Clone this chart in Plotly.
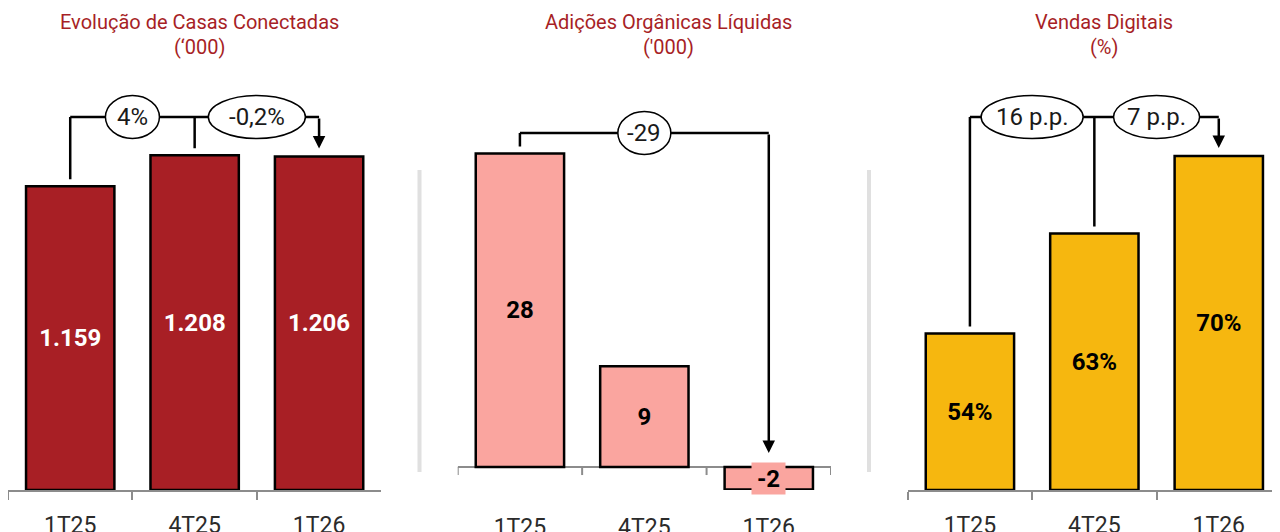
import plotly.graph_objects as go

# ---------------- data ----------------
categories = ["1T25", "4T25", "1T26"]

casas = [1159, 1208, 1206]
casas_labels = ["1.159", "1.208", "1.206"]

adicoes = [28, 9, -2]
adicoes_labels = ["28", "9", "-2"]

digitais = [54, 63, 70]
digitais_labels = ["54%", "63%", "70%"]

titles = ["Evolução de Casas Conectadas", "Adições Orgânicas Líquidas", "Vendas Digitais"]
subtitles = ["(‘000)", "('000)", "(%)"]

deltas_casas = ["4%", "-0,2%"]
deltas_adicoes = ["-29"]
deltas_digitais = ["16 p.p.", "7 p.p."]

# ---------------- layout constants ----------------
W, H = 1280, 532
OFF = 8          # page body margin offset
TOP = 8          # screen px of plot-area top
PB = 490         # screen px of plot-area bottom
PH = PB - TOP    # plot height px
FONT = "Roboto"
RED = "#A71F26"
COLORS = ["#A81F25", "#FAA59F", "#F6B70F"]
TEXT_COLORS = ["white", "black", "black"]
AXIS_GRAY = "#8C8C8C"

x_dom_px = [(8, 381.3), (457.7, 831), (907.7, 1281.3)]
cat_w = (381.3 - 8) / 3.0
x_ranges = [[-0.5, -0.5 + (b - a) / cat_w] for a, b in x_dom_px]

# axis floor value (at plot bottom) and pixels per unit for each panel
y_floor = [679, -2.05, 39.9]
px_per_unit = [0.633, 11.2, 11.1]
y_ranges = [[f, f + PH / k] for f, k in zip(y_floor, px_per_unit)]
# bars start at the truncated axis floor (panels 1 and 3) or zero (panel 2)
bar_base = [679, 0, 39.9]

series = [casas, adicoes, digitais]
labels = [casas_labels, adicoes_labels, digitais_labels]


def span(i):
    return y_ranges[i][1] - y_ranges[i][0]


def y_at_px(i, px):
    return y_ranges[i][0] + (PB - px) / PH * span(i)


def dy(i, px):
    return px / PH * span(i)


def paper_x(px):
    return (px - OFF) / W


def paper_y(px):
    return (PB - px) / PH


fig = go.Figure()
layout_axes = {}
for i in range(3):
    sfx = "" if i == 0 else str(i + 1)
    xa, ya = "x" + sfx, "y" + sfx
    vals = series[i]
    txt = [lab if v >= 0 else "" for v, lab in zip(vals, labels[i])]
    fig.add_trace(go.Bar(
        x=categories, y=[v - bar_base[i] for v in vals], base=bar_base[i],
        xaxis=xa, yaxis=ya,
        marker=dict(color=COLORS[i], line=dict(color="black", width=2.5)),
        width=0.71, text=txt, textposition="inside", insidetextanchor="middle",
        textangle=0, constraintext="none",
        textfont=dict(family=FONT, size=24, color=TEXT_COLORS[i], weight="bold"),
        showlegend=False, hoverinfo="skip",
    ))
    a, b = x_dom_px[i]
    xaxis = dict(domain=[paper_x(a), paper_x(b)], range=x_ranges[i], anchor=ya,
                 showgrid=False, zeroline=False, fixedrange=True, automargin=False,
                 tickfont=dict(family=FONT, size=23, color="#2b2b2b"))
    if i == 1:
        xaxis.update(showline=False, ticks="", ticklabelstandoff=21)
    else:
        xaxis.update(showline=True, linecolor=AXIS_GRAY, linewidth=2,
                     ticks="outside", tickson="boundaries", ticklen=8,
                     tickcolor=AXIS_GRAY, tickwidth=2, ticklabelstandoff=13)
    layout_axes["xaxis" + sfx] = xaxis
    layout_axes["yaxis" + sfx] = dict(domain=[0, 1], range=y_ranges[i], anchor=xa,
                                      visible=False, fixedrange=True, automargin=False)

shapes = []
annotations = []

# panel 2 baseline at zero with boundary ticks
shapes.append(dict(type="line", xref="x2", yref="y2", x0=-0.5, x1=2.5, y0=0, y1=0,
                   line=dict(color=AXIS_GRAY, width=2), layer="below"))
for k in range(len(categories) + 1):
    shapes.append(dict(type="line", xref="x2", yref="y2", x0=k - 0.5, x1=k - 0.5,
                       y0=0, y1=-dy(1, 8), line=dict(color=AXIS_GRAY, width=2),
                       layer="below"))

# negative value label with box
for j, (v, lab) in enumerate(zip(adicoes, adicoes_labels)):
    if v < 0:
        annotations.append(dict(x=categories[j], y=v / 2, xref="x2", yref="y2",
                                text="<b>" + lab + "</b>", showarrow=False,
                                font=dict(family=FONT, size=24, color="black"),
                                bgcolor=COLORS[1], width=33, height=31,
                                borderpad=0))

# bracket specs: (panel, level px, vertical-from bar indices, ellipse centres, labels, widths)
brackets = [
    (0, 117, [0, 1], [0.5, 1.5], deltas_casas, [54, 97]),
    (1, 133, [0], [1.0], deltas_adicoes, [53]),
    (2, 117, [0, 1], [0.5, 1.5], deltas_digitais, [102, 86]),
]
for i, lvl_px, froms, centres, dl, widths in brackets:
    sfx = "" if i == 0 else str(i + 1)
    xa, ya = "x" + sfx, "y" + sfx
    vals = series[i]
    lvl = y_at_px(i, lvl_px)
    line = dict(color="black", width=2.5)
    last = len(vals) - 1
    shapes.append(dict(type="line", xref=xa, yref=ya, x0=froms[0], x1=last,
                       y0=lvl, y1=lvl, line=line))
    for j in froms:
        top = max(vals[j], 0) + dy(i, 7)
        shapes.append(dict(type="line", xref=xa, yref=ya, x0=j, x1=j,
                           y0=top, y1=lvl, line=line))
    tip = max(vals[last], 0) + dy(i, 8 if vals[last] >= 0 else 14)
    annotations.append(dict(x=last, y=tip, ax=last, ay=lvl, xref=xa, yref=ya,
                            axref=xa, ayref=ya, text="", showarrow=True,
                            arrowhead=2, arrowsize=1, arrowwidth=2.5,
                            arrowcolor="black"))
    for c, t, w in zip(centres, dl, widths):
        shapes.append(dict(type="circle", xref=xa, yref=ya, xsizemode="pixel",
                           ysizemode="pixel", xanchor=c, yanchor=lvl,
                           x0=-w / 2, x1=w / 2, y0=-21.5, y1=21.5,
                           fillcolor="white", line=dict(color="black", width=1.5)))
        annotations.append(dict(x=c, y=lvl, xref=xa, yref=ya, text=t,
                                showarrow=False, xanchor="center", yanchor="middle",
                                font=dict(family=FONT, size=24, color="#1a1a1a")))

# separators
for sx in [419.5, 869]:
    shapes.append(dict(type="line", xref="paper", yref="paper",
                       x0=paper_x(sx), x1=paper_x(sx), y0=paper_y(170), y1=paper_y(472),
                       line=dict(color="#E0E0E0", width=4)))

# titles
title_x = [199.5, 668.5, 1104]
for tx, t, s in zip(title_x, titles, subtitles):
    annotations.append(dict(x=paper_x(tx), y=paper_y(22), xref="paper", yref="paper",
                            text=t, showarrow=False, xanchor="center", yanchor="middle",
                            font=dict(family=FONT, size=20, color=RED)))
    annotations.append(dict(x=paper_x(tx), y=paper_y(47), xref="paper", yref="paper",
                            text=s, showarrow=False, xanchor="center", yanchor="middle",
                            font=dict(family=FONT, size=20, color=RED)))

fig.update_layout(
    width=W, height=H,
    margin=dict(l=0, r=0, t=0, b=H - PH, autoexpand=False),
    plot_bgcolor="white", paper_bgcolor="white",
    shapes=shapes, annotations=annotations, bargap=0.29,
    **layout_axes,
)

fig.write_html("out.html")
